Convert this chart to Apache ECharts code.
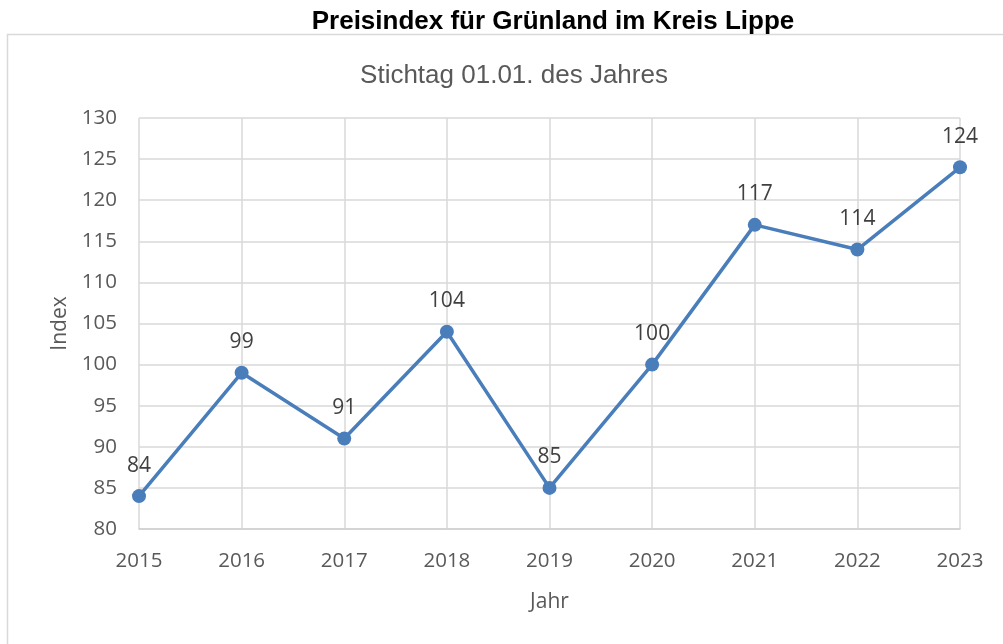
<!DOCTYPE html>
<html>
<head>
<meta charset="utf-8">
<script src="https://cdn.jsdelivr.net/npm/echarts@6/dist/echarts.min.js"></script>
<style>
    html, body { margin: 0; padding: 0; background: #fff; }
    #chart { width: 1003px; height: 644px; }
</style>
</head>
<body>
<div id="chart"></div>
<script>
const years = ['2015', '2016', '2017', '2018', '2019', '2020', '2021', '2022', '2023']
const indexValues = [84, 99, 91, 104, 85, 100, 117, 114, 124]

const chart = echarts.init(document.getElementById('chart'))
const labelFont = 'Open Sans, Noto Sans, sans-serif'
const option = {
    animation: false,
    graphic: [
        {
            type: 'rect',
            shape: { x: 7.5, y: 34.5, width: 1010, height: 620 },
            style: { fill: 'none', stroke: '#d9d9d9', lineWidth: 1.5 },
            z: -1,
        },
    ],
    title: [
        {
            text: 'Preisindex für Grünland im Kreis Lippe',
            left: 548,
            top: 4,
            textAlign: 'center',
            textStyle: { fontFamily: 'Liberation Sans, Arial', fontSize: 26, fontWeight: 'bold', color: '#000' },
        },
        {
            text: 'Stichtag 01.01. des Jahres',
            left: 509,
            top: 58,
            textAlign: 'center',
            textStyle: { fontFamily: 'Liberation Sans, Arial', fontSize: 26, fontWeight: 'normal', color: '#595959' },
        },
    ],
    grid: { left: 139, right: 43, top: 118, bottom: 115 },
    xAxis: {
        type: 'category',
        data: years,
        boundaryGap: false,
        name: 'Jahr',
        nameLocation: 'middle',
        nameGap: 63,
        nameTextStyle: { fontFamily: labelFont, fontSize: 21, color: '#595959' },
        axisLine: { lineStyle: { color: '#d0d0d0', width: 1.5 } },
        axisTick: { show: false },
        axisLabel: { fontFamily: labelFont, fontSize: 20.5, color: '#595959', margin: 22 },
        splitLine: { show: true, lineStyle: { color: '#d9d9d9', width: 1.5 } },
    },
    yAxis: {
        type: 'value',
        min: 80,
        max: 130,
        interval: 5,
        name: 'Index',
        nameLocation: 'middle',
        nameGap: 68,
        nameTextStyle: { fontFamily: labelFont, fontSize: 21, color: '#595959' },
        axisLine: { show: false },
        axisTick: { show: false },
        axisLabel: { fontFamily: labelFont, fontSize: 20.5, color: '#595959', margin: 22 },
        splitLine: { lineStyle: { color: '#d9d9d9', width: 1.5 } },
    },
    series: [
        {
            type: 'line',
            data: indexValues,
            symbol: 'circle',
            symbolSize: 14,
            lineStyle: { color: '#4a7ebb', width: 3.5 },
            itemStyle: { color: '#4a7ebb' },
            label: {
                show: true,
                position: 'top',
                distance: 13,
                fontFamily: labelFont,
                fontSize: 21,
                color: '#404040',
            },
        },
    ],
}
chart.setOption(option)
</script>
</body>
</html>
